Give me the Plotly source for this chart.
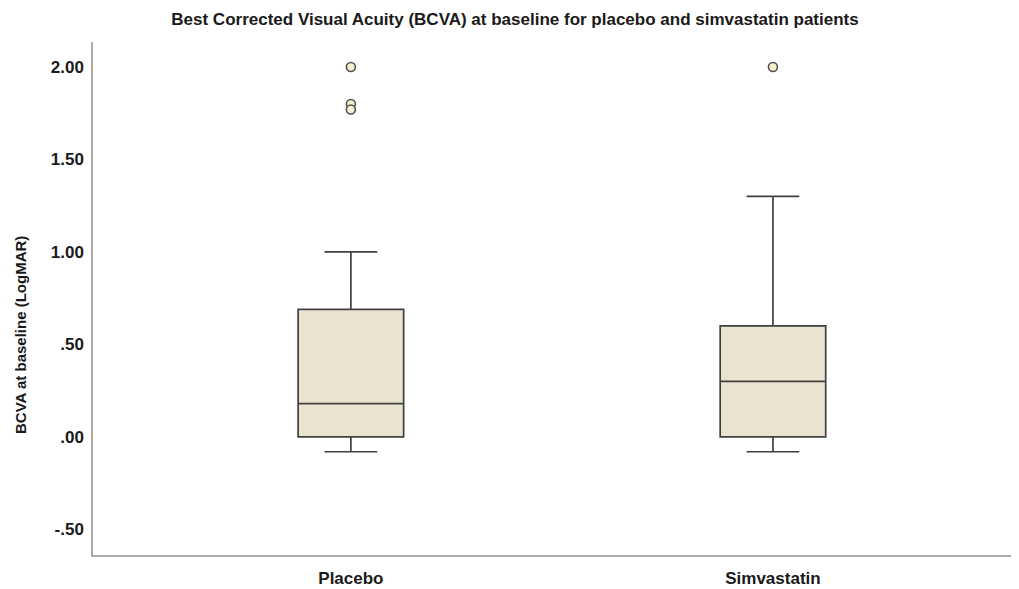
import plotly.graph_objects as go

categories = ["Placebo", "Simvastatin"]
q1 = [0.00, 0.00]
median = [0.18, 0.30]
q3 = [0.69, 0.60]
lower_whisker = [-0.08, -0.08]
upper_whisker = [1.00, 1.30]
outliers = [[2.00, 1.80, 1.77], [2.00]]

y_tickvals = [2.0, 1.5, 1.0, 0.5, 0.0, -0.5]
y_ticktext = ["2.00", "1.50", "1.00", ".50", ".00", "-.50"]

FONT = "Liberation Sans, Arial, sans-serif"
BOX_FILL = "#EAE3CF"
EDGE = "#404040"
TXT = "#1a1a1a"

# page body has an 8px margin; size the figure to fit the 1019x589 window
W, H = 1011, 581
ML, MT, MB = 85, 34, 34
PW, PH = W - ML, H - MT - MB

xpos = list(range(len(categories)))

fig = go.Figure()
fig.add_trace(go.Box(
    x=xpos,
    q1=q1, median=median, q3=q3,
    lowerfence=lower_whisker, upperfence=upper_whisker,
    fillcolor=BOX_FILL,
    line=dict(color=EDGE, width=1.7),
    whiskerwidth=0.5,
    width=0.25,
    boxpoints=False,
    hoverinfo="skip",
    showlegend=False,
))

for i, vals in enumerate(outliers):
    fig.add_trace(go.Scatter(
        x=[xpos[i]] * len(vals), y=vals,
        mode="markers",
        marker=dict(size=9, color="#F7F1D2", line=dict(color="#505050", width=1.6)),
        showlegend=False, hoverinfo="skip",
    ))

fig.update_layout(
    width=W, height=H,
    margin=dict(l=ML, r=0, t=MT, b=MB),
    paper_bgcolor="white", plot_bgcolor="white",
    font=dict(family=FONT, size=17, color=TXT),
    title=dict(
        text="<b>Best Corrected Visual Acuity (BCVA) at baseline for placebo and simvastatin patients</b>",
        x=507 / W, xanchor="center", xref="container",
        y=1 - 11 / H, yanchor="middle", yref="container",
        font=dict(family=FONT, size=17, color=TXT),
    ),
    xaxis=dict(
        range=[-0.611, 1.583],
        tickvals=xpos,
        ticktext=["<b>%s</b>" % c for c in categories],
        showline=True, linecolor="#AAAAAA", linewidth=1.5,
        showgrid=False, zeroline=False,
        ticks="", ticklabelstandoff=7,
        tickfont=dict(family=FONT, size=17, color=TXT),
    ),
    yaxis=dict(
        range=[-0.638, 2.135],
        tickvals=y_tickvals,
        ticktext=["<b>%s</b>" % t for t in y_ticktext],
        showline=True, linecolor="#AAAAAA", linewidth=1.5,
        showgrid=False, zeroline=False,
        ticks="", ticklabelstandoff=4,
        tickfont=dict(family=FONT, size=17, color=TXT),
    ),
    annotations=[dict(
        text="<b>BCVA at baseline (LogMAR)</b>",
        textangle=-90,
        xref="paper", yref="paper",
        x=(12 - ML) / PW, y=(H - MB - 327) / PH,
        xanchor="center", yanchor="middle",
        showarrow=False,
        font=dict(family=FONT, size=15, color=TXT),
    )],
)

fig.write_html("out.html")
